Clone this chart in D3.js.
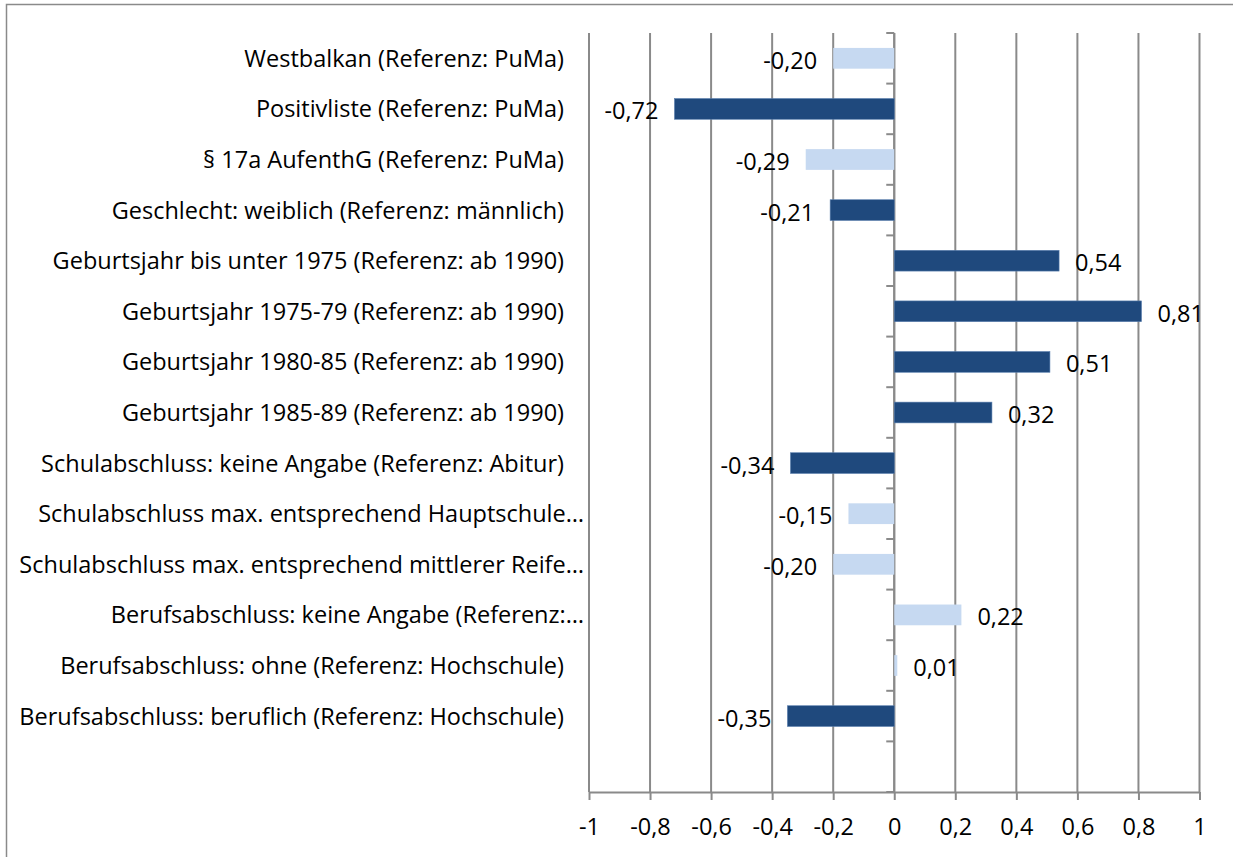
<!DOCTYPE html>
<html>
<head>
<meta charset="utf-8">
<script src="https://cdn.jsdelivr.net/npm/d3@7"></script>
<style>
  body { margin: 0; background: #fff; }
  text { font-family: "Open Sans", sans-serif; fill: #000; }
</style>
</head>
<body>
<script>
// categories, top to bottom (the last one is an empty slot, as in the original)
var categories = [
  "Westbalkan (Referenz: PuMa)",
  "Positivliste (Referenz: PuMa)",
  "§ 17a AufenthG (Referenz: PuMa)",
  "Geschlecht: weiblich (Referenz: männlich)",
  "Geburtsjahr bis unter 1975 (Referenz: ab 1990)",
  "Geburtsjahr 1975-79 (Referenz: ab 1990)",
  "Geburtsjahr 1980-85 (Referenz: ab 1990)",
  "Geburtsjahr 1985-89 (Referenz: ab 1990)",
  "Schulabschluss: keine Angabe (Referenz: Abitur)",
  "Schulabschluss max. entsprechend Hauptschule…",
  "Schulabschluss max. entsprechend mittlerer Reife…",
  "Berufsabschluss: keine Angabe (Referenz:…",
  "Berufsabschluss: ohne (Referenz: Hochschule)",
  "Berufsabschluss: beruflich (Referenz: Hochschule)"
];
var values = [-0.20, -0.72, -0.29, -0.21, 0.54, 0.81, 0.51, 0.32, -0.34, -0.15, -0.20, 0.22, 0.01, -0.35];
// dark bar = significant, light bar = not significant
var significant = [false, true, false, true, true, true, true, true, true, false, false, false, false, true];
var xTicks = [-1, -0.8, -0.6, -0.4, -0.2, 0, 0.2, 0.4, 0.6, 0.8, 1];

var w = 1233, h = 857;
var gridColor = "#8a8a8a";
var fontSize = "23.5px";

var svg = d3.select("body").append("svg")
    .attr("width", w)
    .attr("height", h);

// outer chart border (only top and left visible)
svg.append("rect")
    .attr("x", 6.5).attr("y", 4.5)
    .attr("width", w + 20).attr("height", h + 20)
    .attr("fill", "none")
    .attr("stroke", gridColor)
    .attr("stroke-width", 1.5);

var x = d3.scaleLinear().domain([-1, 1]).range([589, 1199.5]);

var slots = categories.concat([""]);
var y = d3.scaleBand()
    .domain(d3.range(slots.length))
    .range([33, 792])
    .paddingInner(0.59)
    .paddingOuter(0.295);
var step = y.step();

// vertical gridlines
svg.append("g").selectAll("line")
    .data(xTicks)
    .enter().append("line")
    .attr("x1", function(d){ return x(d); })
    .attr("x2", function(d){ return x(d); })
    .attr("y1", 33)
    .attr("y2", 792)
    .attr("stroke", gridColor)
    .attr("stroke-width", 2);

// comma decimals and a plain hyphen for minus, like the original
var fmt = function(d){ return String(Math.round(d * 10) / 10).replace(".", ","); };
var fmtValue = function(d){ return d.toFixed(2).replace(".", ","); };

// bottom axis
var xAxis = d3.axisBottom(x).tickValues(xTicks).tickSize(8).tickSizeOuter(0).tickFormat(fmt);
var gx = svg.append("g")
    .attr("transform", "translate(0,792)")
    .call(xAxis);
gx.select(".domain").attr("stroke", gridColor).attr("stroke-width", 2);
gx.selectAll(".tick line").attr("stroke", gridColor).attr("stroke-width", 2);
gx.selectAll(".tick text")
    .attr("y", 43)
    .attr("dy", null)
    .attr("fill", "#000")
    .style("font-family", "'Open Sans', sans-serif")
    .style("font-size", fontSize);

// category axis at zero with ticks between the bands
svg.append("line")
    .attr("x1", x(0)).attr("x2", x(0))
    .attr("y1", 33).attr("y2", 792)
    .attr("stroke", gridColor).attr("stroke-width", 2);
svg.append("g").selectAll("line")
    .data(d3.range(slots.length + 1))
    .enter().append("line")
    .attr("x1", x(0) - 8).attr("x2", x(0))
    .attr("y1", function(i){ return 33 + i * step; })
    .attr("y2", function(i){ return 33 + i * step; })
    .attr("stroke", gridColor).attr("stroke-width", 2);

// bars
svg.append("g").selectAll("rect")
    .data(values)
    .enter().append("rect")
    .attr("x", function(d){ return x(Math.min(0, d)); })
    .attr("y", function(d, i){ return y(i); })
    .attr("width", function(d){ return Math.abs(x(d) - x(0)); })
    .attr("height", y.bandwidth())
    .attr("fill", function(d, i){ return significant[i] ? "#1f497d" : "#c6d9f1"; })
    .attr("stroke", function(d, i){ return significant[i] ? "#5a7fae" : "none"; })
    .attr("stroke-width", 0.6);

// value labels
svg.append("g").selectAll("text")
    .data(values)
    .enter().append("text")
    .attr("x", function(d){ return d < 0 ? x(d) - 16 : x(d) + 16; })
    .attr("y", function(d, i){ return y(i) + y.bandwidth() / 2 + 10.5; })
    .attr("text-anchor", function(d){ return d < 0 ? "end" : "start"; })
    .style("font-size", fontSize)
    .text(fmtValue);

// category labels
svg.append("g").selectAll("text")
    .data(categories)
    .enter().append("text")
    .attr("x", function(d){ return /…$/.test(d) ? 584 : 564; })
    .attr("y", function(d, i){ return y(i) + y.bandwidth() / 2 + 8.5; })
    .attr("text-anchor", "end")
    .style("font-size", fontSize)
    .text(function(d){ return d; });
</script>
</body>
</html>
